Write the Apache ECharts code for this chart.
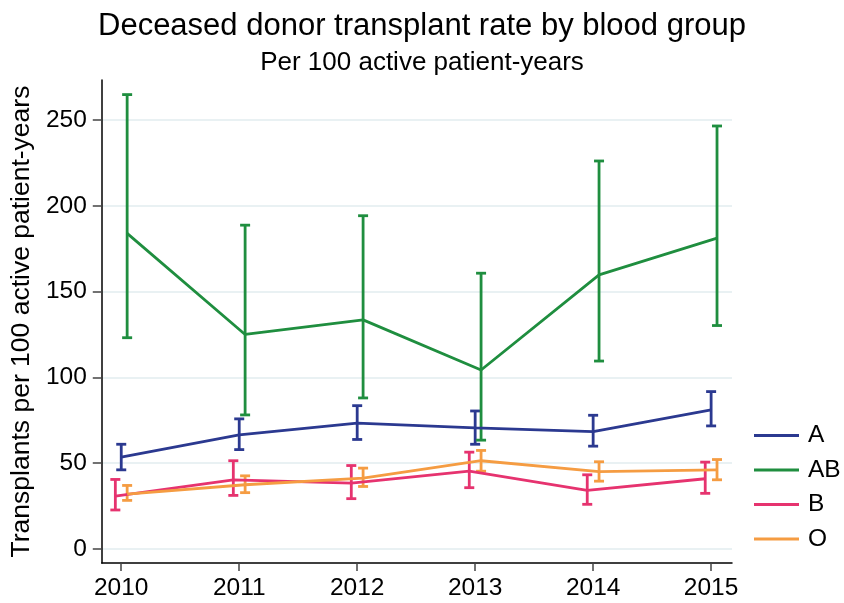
<!DOCTYPE html>
<html>
<head>
<meta charset="utf-8">
<script src="https://cdn.jsdelivr.net/npm/echarts@6/dist/echarts.min.js"></script>
<style>
  html, body { margin: 0; padding: 0; background: #fff; }
  #chart { width: 844px; height: 603px; }
</style>
</head>
<body>
<div id="chart"></div>
<script>
// data
const years = [2010, 2011, 2012, 2013, 2014, 2015]
const yTicks = [0, 50, 100, 150, 200, 250]

const aMean = [53.5, 66.5, 73.3, 70.5, 68.4, 81.0]
const aLow = [46.1, 57.9, 63.8, 61.0, 59.9, 71.7]
const aHigh = [61.0, 75.8, 83.5, 80.4, 77.9, 91.7]

const abMean = [183.9, 125.0, 133.5, 104.3, 159.7, 181.1]
const abLow = [123.1, 78.1, 88.0, 63.4, 109.5, 130.2]
const abHigh = [264.8, 188.7, 194.2, 160.7, 226.1, 246.5]

const bMean = [30.8, 40.3, 38.4, 45.3, 34.1, 40.9]
const bLow = [22.7, 31.2, 29.3, 35.7, 26.0, 32.4]
const bHigh = [40.5, 51.4, 48.6, 56.4, 43.2, 50.6]

const oMean = [32.0, 37.4, 41.3, 51.4, 45.0, 46.1]
const oLow = [28.3, 32.8, 36.4, 45.3, 39.5, 40.3]
const oHigh = [37.0, 42.6, 47.1, 57.4, 50.8, 52.1]

const font = 'Liberation Sans, Arial, Helvetica, sans-serif'

// groups are dodged a little around each year
const groups = [
  { name: 'A', color: '#2b3990', shift: 0, mean: aMean, low: aLow, high: aHigh },
  { name: 'AB', color: '#1f8e3f', shift: 0.05, mean: abMean, low: abLow, high: abHigh },
  { name: 'B', color: '#e6336f', shift: -0.05, mean: bMean, low: bLow, high: bHigh },
  { name: 'O', color: '#f59c42', shift: 0.05, mean: oMean, low: oLow, high: oHigh }
]

// error bar with caps
const errorBar = (color) => (params, api) => {
  const lo = api.coord([api.value(0), api.value(1)])
  const hi = api.coord([api.value(0), api.value(2)])
  const cap = 5
  const style = { stroke: color, lineWidth: 2.8 }
  return {
    type: 'group',
    children: [
      { type: 'line', shape: { x1: lo[0], y1: lo[1], x2: hi[0], y2: hi[1] }, style },
      { type: 'line', shape: { x1: lo[0] - cap, y1: lo[1], x2: lo[0] + cap, y2: lo[1] }, style },
      { type: 'line', shape: { x1: hi[0] - cap, y1: hi[1], x2: hi[0] + cap, y2: hi[1] }, style }
    ]
  }
}

const series = []
groups.forEach(g => {
  series.push({
    name: g.name,
    type: 'line',
    data: years.map((yr, i) => [yr + g.shift, g.mean[i]]),
    symbol: 'none',
    lineStyle: { color: g.color, width: 2.8 },
    itemStyle: { color: g.color },
    z: 3
  })
  series.push({
    name: g.name + ' CI',
    type: 'custom',
    renderItem: errorBar(g.color),
    data: years.map((yr, i) => [yr + g.shift, g.low[i], g.high[i]]),
    encode: { x: 0, y: [1, 2] },
    z: 3
  })
})

const chart = echarts.init(document.getElementById('chart'))
chart.setOption({
  animation: false,
  backgroundColor: '#fff',
  textStyle: { fontFamily: font },
  title: [
    {
      text: 'Deceased donor transplant rate by blood group',
      left: 'center',
      top: 6,
      textStyle: { fontFamily: font, fontSize: 31, fontWeight: 'normal', color: '#000' }
    },
    {
      text: 'Per 100 active patient-years',
      left: 'center',
      top: 45,
      textStyle: { fontFamily: font, fontSize: 26, fontWeight: 'normal', color: '#000' }
    }
  ],
  legend: {
    orient: 'vertical',
    left: 749,
    top: 418,
    data: groups.map(g => ({ name: g.name, icon: 'rect', itemStyle: { color: g.color } })),
    itemWidth: 45,
    itemHeight: 3,
    itemGap: 9.5,
    textStyle: { fontFamily: font, fontSize: 24.5, color: '#000', lineHeight: 24, padding: [0, 0, 0, 4] }
  },
  grid: { left: 98.7, right: 112, top: 80, bottom: 40, containLabel: false },
  xAxis: {
    type: 'value',
    min: 2009.835,
    max: 2015.177,
    axisLine: { onZero: false, lineStyle: { color: '#000', width: 1.5 } },
    axisTick: { customValues: years, length: 8, lineStyle: { color: '#444', width: 1.5 } },
    axisLabel: {
      customValues: years,
      margin: 13,
      fontFamily: font,
      fontSize: 24.5,
      color: '#000',
      formatter: v => String(Math.round(v))
    },
    splitLine: { show: false }
  },
  yAxis: {
    type: 'value',
    min: -8.2,
    max: 273.3,
    name: 'Transplants per 100 active patient-years',
    nameLocation: 'middle',
    nameGap: 51,
    nameTextStyle: { fontFamily: font, fontSize: 26.5, color: '#000' },
    axisLine: { show: true, onZero: false, lineStyle: { color: '#000', width: 1.5 } },
    axisTick: { show: true, customValues: yTicks, length: 9, lineStyle: { color: '#444', width: 1.5 } },
    axisLabel: { customValues: yTicks, margin: 15, fontFamily: font, fontSize: 24.5, color: '#000' },
    splitLine: { show: true, lineStyle: { color: '#e9f1f3', width: 2 } }
  },
  series
})
</script>
</body>
</html>
